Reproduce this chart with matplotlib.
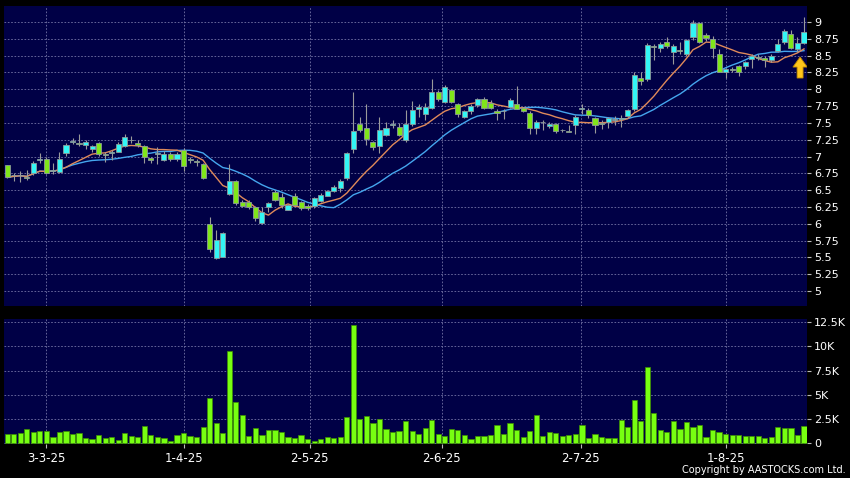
import matplotlib
matplotlib.use("Agg")
import matplotlib.pyplot as plt
import numpy as np
import pandas as pd

# daily prices (HKD)
open_ = [6.87, 6.73, 6.72, 6.69, 6.75, 6.95, 6.97, 6.79, 6.77, 7.05,
         7.21, 7.20, 7.17, 7.11, 7.20, 7.04, 7.05, 7.07, 7.16, 7.24,
         7.20, 7.16, 6.98, 7.04, 6.95, 7.04, 6.96, 7.10, 6.97, 6.94,
         6.89, 5.99, 5.49, 5.51, 6.44, 6.63, 6.33, 6.33, 6.25, 6.01,
         6.25, 6.47, 6.40, 6.21, 6.42, 6.33, 6.26, 6.27, 6.34, 6.42,
         6.48, 6.53, 6.68, 7.11, 7.49, 7.42, 7.21, 7.15, 7.32, 7.47,
         7.44, 7.24, 7.49, 7.71, 7.63, 7.72, 7.96, 7.81, 7.99, 7.78,
         7.59, 7.68, 7.76, 7.85, 7.80, 7.68, 7.68, 7.73, 7.78, 7.72,
         7.65, 7.43, 7.52, 7.45, 7.48, 7.40, 7.38, 7.47, 7.71, 7.69,
         7.57, 7.50, 7.52, 7.55, 7.56, 7.60, 7.70, 8.17, 8.15, 8.65,
         8.62, 8.70, 8.56, 8.58, 8.53, 8.77, 8.99, 8.81, 8.74, 8.53,
         8.26, 8.30, 8.34, 8.34, 8.45, 8.48, 8.47, 8.43, 8.57, 8.70,
         8.82, 8.60, 8.69]
high = [6.88, 6.76, 6.78, 6.80, 6.93, 7.05, 7.00, 6.91, 7.06, 7.20,
        7.27, 7.34, 7.25, 7.17, 7.22, 7.07, 7.09, 7.21, 7.33, 7.30,
        7.24, 7.17, 7.00, 7.14, 7.08, 7.06, 7.06, 7.13, 7.00, 6.96,
        6.90, 6.10, 5.91, 5.88, 6.89, 6.65, 6.36, 6.35, 6.27, 6.25,
        6.33, 6.50, 6.45, 6.30, 6.45, 6.34, 6.30, 6.40, 6.45, 6.50,
        6.57, 6.66, 7.07, 7.96, 7.58, 7.78, 7.23, 7.58, 7.52, 7.55,
        7.50, 7.69, 7.83, 7.78, 7.80, 8.15, 7.99, 8.07, 8.01, 7.80,
        7.69, 7.78, 7.87, 7.88, 7.84, 7.70, 7.70, 7.87, 8.05, 7.74,
        7.67, 7.54, 7.55, 7.51, 7.50, 7.41, 7.47, 7.61, 7.78, 7.72,
        7.58, 7.55, 7.58, 7.60, 7.62, 7.71, 8.26, 8.25, 8.69, 8.67,
        8.70, 8.78, 8.67, 8.71, 8.75, 9.03, 9.00, 8.84, 8.79, 8.60,
        8.31, 8.33, 8.36, 8.42, 8.52, 8.53, 8.49, 8.52, 8.75, 8.89,
        8.88, 8.78, 9.07]
low = [6.68, 6.63, 6.62, 6.65, 6.72, 6.90, 6.74, 6.74, 6.75, 7.01,
       7.19, 7.15, 7.11, 7.07, 7.01, 6.92, 6.95, 7.06, 7.14, 7.20,
       7.14, 6.91, 6.90, 6.89, 6.93, 6.93, 6.94, 6.78, 6.91, 6.86,
       6.66, 5.58, 5.47, 5.50, 6.43, 6.28, 6.25, 6.22, 6.04, 6.00,
       6.17, 6.34, 6.23, 6.20, 6.26, 6.20, 6.20, 6.24, 6.33, 6.41,
       6.47, 6.47, 6.65, 7.05, 7.37, 7.17, 7.10, 7.05, 7.30, 7.42,
       7.30, 7.22, 7.45, 7.58, 7.55, 7.70, 7.83, 7.79, 7.79, 7.58,
       7.57, 7.63, 7.74, 7.71, 7.70, 7.55, 7.56, 7.72, 7.70, 7.66,
       7.34, 7.33, 7.40, 7.43, 7.35, 7.37, 7.36, 7.33, 7.63, 7.57,
       7.35, 7.41, 7.43, 7.47, 7.44, 7.58, 7.68, 8.07, 8.13, 8.43,
       8.55, 8.62, 8.38, 8.53, 8.50, 8.73, 8.69, 8.72, 8.47, 8.25,
       8.16, 8.25, 8.19, 8.30, 8.32, 8.44, 8.33, 8.41, 8.55, 8.68,
       8.60, 8.55, 8.68]
close = [6.69, 6.72, 6.73, 6.68, 6.90, 6.97, 6.76, 6.80, 6.97, 7.17,
         7.23, 7.18, 7.21, 7.16, 7.04, 7.02, 7.07, 7.19, 7.29, 7.25,
         7.17, 7.00, 6.95, 7.05, 7.04, 6.96, 7.04, 6.86, 6.95, 6.92,
         6.68, 5.62, 5.76, 5.86, 6.64, 6.31, 6.27, 6.25, 6.08, 6.18,
         6.31, 6.35, 6.28, 6.28, 6.28, 6.24, 6.24, 6.38, 6.43, 6.48,
         6.55, 6.63, 7.05, 7.38, 7.39, 7.26, 7.14, 7.40, 7.43, 7.49,
         7.32, 7.48, 7.69, 7.73, 7.74, 7.96, 7.85, 8.04, 7.81, 7.63,
         7.67, 7.75, 7.85, 7.72, 7.72, 7.64, 7.67, 7.84, 7.71, 7.68,
         7.43, 7.52, 7.51, 7.49, 7.38, 7.39, 7.37, 7.59, 7.72, 7.62,
         7.47, 7.48, 7.57, 7.56, 7.57, 7.69, 8.21, 8.12, 8.66, 8.63,
         8.67, 8.65, 8.65, 8.57, 8.73, 8.98, 8.71, 8.76, 8.61, 8.26,
         8.30, 8.29, 8.26, 8.40, 8.50, 8.47, 8.43, 8.50, 8.67, 8.87,
         8.62, 8.69, 8.85]
# volume in thousands
volume_k = [0.96, 0.96, 1.10, 1.48, 1.14, 1.27, 1.27, 0.69, 1.17, 1.27,
            0.93, 1.07, 0.55, 0.45, 0.83, 0.59, 0.65, 0.34, 1.07, 0.76,
            0.62, 1.83, 0.86, 0.62, 0.59, 0.24, 0.86, 1.03, 0.79, 0.62,
            1.65, 4.68, 2.07, 1.10, 9.54, 4.27, 2.93, 0.72, 1.62, 0.86,
            1.38, 1.38, 1.14, 0.62, 0.55, 0.86, 0.41, 0.24, 0.41, 0.65,
            0.55, 0.69, 2.75, 12.22, 2.48, 2.82, 2.07, 2.55, 1.48, 1.17,
            1.31, 2.34, 1.31, 0.93, 1.55, 2.45, 0.93, 0.76, 1.45, 1.38,
            0.86, 0.45, 0.79, 0.72, 0.86, 1.89, 0.93, 2.13, 1.38, 0.65,
            1.31, 2.96, 0.76, 1.14, 1.07, 0.76, 0.90, 0.96, 1.86, 0.59,
            1.00, 0.65, 0.55, 0.55, 2.41, 1.72, 4.48, 2.27, 7.89, 3.13,
            1.38, 1.17, 2.34, 1.52, 2.20, 1.65, 1.86, 0.65, 1.38, 1.17,
            0.96, 0.83, 0.83, 0.72, 0.72, 0.76, 0.52, 0.69, 1.65, 1.62,
            1.62, 0.86, 1.76]

date_labels = ["3-3-25", "1-4-25", "2-5-25", "2-6-25", "2-7-25", "1-8-25"]
date_pos = [6, 27, 46.3, 66.5, 87.8, 110]
price_ticks = np.arange(5, 9.01, 0.25)
vol_ticks = [0, 2.5, 5, 7.5, 10, 12.5]
vol_labels = ["0", "2.5K", "5K", "7.5K", "10K", "12.5K"]

NAVY = "#000046"
UP = "#33f5f5"
DOWN = "#80e61a"
GRID = "#7474a6"

o = np.array(open_)
c = np.array(close)
x = np.arange(len(c))
up = c >= o

ma10 = pd.Series(c).rolling(10, min_periods=1).mean()
ma20 = pd.Series(c).rolling(20, min_periods=1).mean()

fig = plt.figure(figsize=(8.5, 4.78), dpi=100, facecolor="black")
ax = fig.add_axes([4 / 850, 1 - 306 / 478, 803 / 850, 300 / 478])
axv = fig.add_axes([4 / 850, 1 - 444 / 478, 803 / 850, 125 / 478], sharex=ax)

for a in (ax, axv):
    a.set_facecolor(NAVY)
    for s in a.spines.values():
        s.set_visible(False)
    a.set_axisbelow(True)
    a.grid(True, color=GRID, ls=(0, (2, 2)), lw=0.6)
    a.yaxis.tick_right()
    a.tick_params(axis="y", colors="#bbbbbb", labelcolor="white", labelsize=8,
                  length=3, width=0.8, pad=2)

# price panel
ax.plot(x, ma20, color="#45a6ee", lw=1.0, zorder=2)
ax.plot(x, ma10, color="#e08a5a", lw=1.0, zorder=2)
ax.vlines(x, low, high, color="#9a9a9a", lw=0.8, zorder=3)
body = np.maximum(np.abs(c - o), 0.004)
ax.bar(x, body, bottom=np.minimum(o, c), width=0.78,
       color=np.where(up, UP, DOWN), edgecolor="#8c9a9a", lw=0.6, zorder=4)
ax.arrow(121.4, 8.167, 0, 0.313, width=0.92, head_width=2.2, head_length=0.15,
         length_includes_head=True, fc="#ffc61a", ec="#b88400", lw=0.6, zorder=5)

ax.set_ylim(4.777, 9.238)
ax.set_yticks(price_ticks)
ax.set_yticklabels(["%g" % t for t in price_ticks])
ax.set_xticks(date_pos)
ax.tick_params(axis="x", length=0, labelbottom=False)
ax.set_xlim(-0.49, 122.46)

# volume panel
axv.bar(x, volume_k, width=0.8, color="#77ff11", edgecolor="#3f8f00", lw=0.5, zorder=3)
axv.set_ylim(-0.07, 12.84)
axv.set_yticks(vol_ticks)
axv.set_yticklabels(vol_labels)
axv.set_xticks(date_pos)
axv.set_xticklabels(date_labels)
axv.tick_params(axis="x", colors="#bbbbbb", labelcolor="white", labelsize=8.5,
                length=3, width=0.8, pad=3)

fig.text(846 / 850, 1 - 470 / 478, "Copyright by AASTOCKS.com Ltd.",
         ha="right", va="center", color="white", fontsize=7)

fig.savefig("out.png", dpi=100, facecolor="black")
